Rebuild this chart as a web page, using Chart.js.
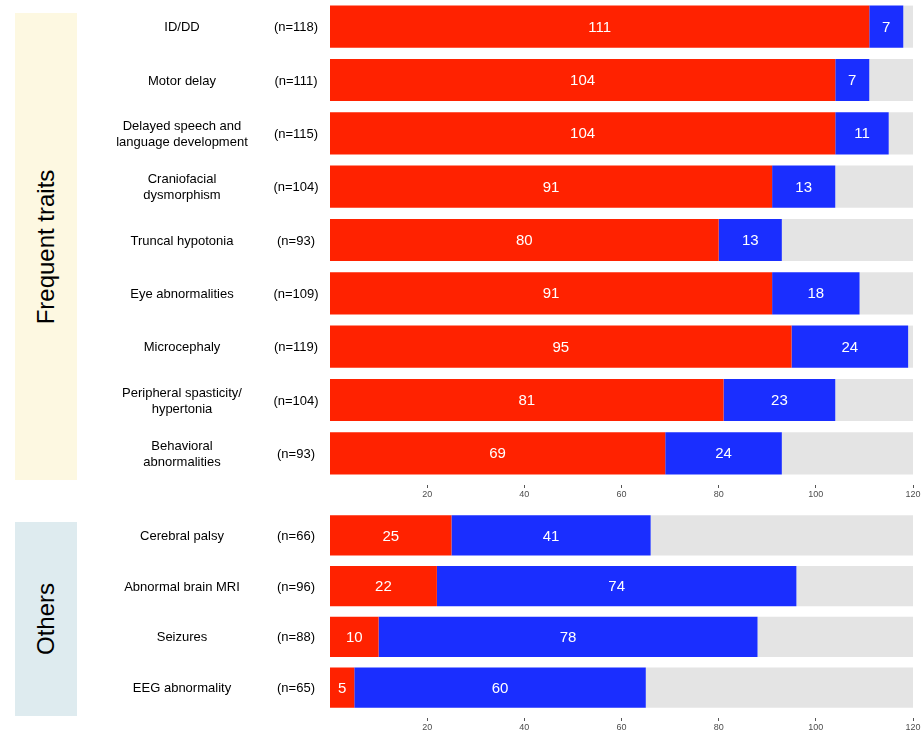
<!DOCTYPE html>
<html>
<head>
<meta charset="utf-8">
<script src="https://cdn.jsdelivr.net/npm/chart.js@4.4.1/dist/chart.umd.min.js"></script>
<style>
  body { margin: 0; background: #fff; font-family: "Liberation Sans", Arial, sans-serif; }
  #wrap { position: relative; width: 924px; height: 737px; overflow: hidden; }
  .panel { position: absolute; left: 15px; width: 62px; }
  .panel span {
    position: absolute; left: 50%; top: 50%;
    transform: translate(-50%, -50%) rotate(-90deg);
    font-size: 24px; white-space: nowrap; color: #000;
  }
  canvas { position: absolute; left: 0; }
</style>
</head>
<body>
<div id="wrap">
  <div class="panel" style="top:13px;height:467px;background:#FDF8E1"><span>Frequent traits</span></div>
  <div class="panel" style="top:522px;height:194px;background:#DEEBEF"><span>Others</span></div>
  <canvas id="top" width="924" height="503" style="top:0"></canvas>
  <canvas id="bottom" width="924" height="227" style="top:510px"></canvas>
</div>
<script>
// top panel: frequent traits
const topNames = ['ID/DD', 'Motor delay', 'Delayed speech and\nlanguage development',
  'Craniofacial\ndysmorphism', 'Truncal hypotonia', 'Eye abnormalities', 'Microcephaly',
  'Peripheral spasticity/\nhypertonia', 'Behavioral\nabnormalities'];
const topN = [118, 111, 115, 104, 93, 109, 119, 104, 93];
const topRed = [111, 104, 104, 91, 80, 91, 95, 81, 69];
const topBlue = [7, 7, 11, 13, 13, 18, 24, 23, 24];

// bottom panel: others
const botNames = ['Cerebral palsy', 'Abnormal brain MRI', 'Seizures', 'EEG abnormality'];
const botN = [66, 96, 88, 65];
const botRed = [25, 22, 10, 5];
const botBlue = [41, 74, 78, 60];

const xTicks = [20, 40, 60, 80, 100, 120];
const axisMax = 120;

const RED = '#FF2200', BLUE = '#1A2EFF', GREY = '#E4E4E4';
const FONT = '"Liberation Sans", Arial, sans-serif';

const sideLabels = {
  id: 'sideLabels',
  afterDraw(chart, args, opts) {
    const ctx = chart.ctx, y = chart.scales.y;
    ctx.save();
    ctx.fillStyle = '#000';
    ctx.font = '13px ' + FONT;
    ctx.textAlign = 'center';
    ctx.textBaseline = 'middle';
    opts.names.forEach((name, i) => {
      const cy = y.getPixelForValue(i) + 1;
      const lines = name.split('\n');
      lines.forEach((ln, k) => ctx.fillText(ln, 182, cy + (k - (lines.length - 1) / 2) * 16));
      ctx.fillText('(n=' + opts.n[i] + ')', 296, cy);
    });
    ctx.restore();
  }
};

const valueLabels = {
  id: 'valueLabels',
  afterDatasetsDraw(chart) {
    const ctx = chart.ctx;
    ctx.save();
    ctx.fillStyle = '#fff';
    ctx.font = '15px ' + FONT;
    ctx.textAlign = 'center';
    ctx.textBaseline = 'middle';
    [0, 1].forEach(d => {
      const ds = chart.data.datasets[d];
      chart.getDatasetMeta(d).data.forEach((bar, i) => {
        const p = bar.getCenterPoint();
        ctx.fillText(ds.data[i], p.x, p.y + 1);
      });
    });
    ctx.restore();
  }
};

function makeChart(id, names, n, red, blue, axisH) {
  return new Chart(document.getElementById(id), {
    type: 'bar',
    data: {
      labels: names,
      datasets: [
        { data: red, backgroundColor: RED },
        { data: blue, backgroundColor: BLUE },
        { data: n.map(v => axisMax - v), backgroundColor: GREY }
      ]
    },
    options: {
      indexAxis: 'y',
      responsive: false,
      animation: false,
      datasets: { bar: { categoryPercentage: 1, barPercentage: 0.79, borderWidth: 0 } },
      layout: { padding: { left: 330, right: 11, top: 0, bottom: 0 } },
      plugins: {
        legend: { display: false },
        tooltip: { enabled: false },
        sideLabels: { names: names, n: n }
      },
      scales: {
        y: { stacked: true, display: false },
        x: {
          stacked: true, min: 0, max: axisMax,
          afterBuildTicks: s => { s.ticks = xTicks.map(v => ({ value: v })); },
          afterFit: s => { s.height = axisH; },
          border: { display: false },
          grid: { drawOnChartArea: false, tickLength: 8, tickColor: '#555', tickBorderDash: [0, 5, 3, 100] },
          ticks: { color: '#4D4D4D', font: { size: 9, family: FONT }, padding: 1, maxRotation: 0 }
        }
      }
    },
    plugins: [sideLabels, valueLabels]
  });
}

makeChart('top', topNames, topN, topRed, topBlue, 23);
makeChart('bottom', botNames, botN, botRed, botBlue, 24);
</script>
</body>
</html>
